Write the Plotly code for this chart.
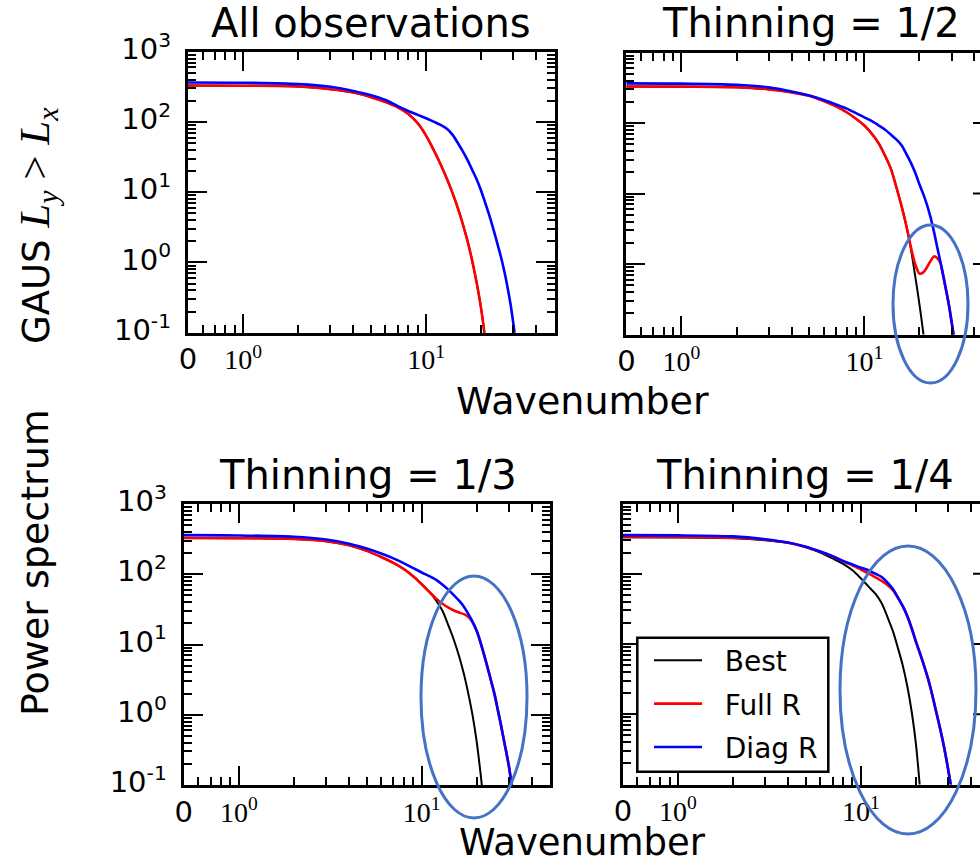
import math
import plotly.graph_objects as go

W, H = 980, 866
SANS = "DejaVu Sans"
SERIF = "Liberation Serif"

# ---------------- data ----------------
K = [0.5, 1, 2, 3, 4, 5, 6, 7, 8, 9, 10, 11, 12, 13, 14, 15, 16, 17, 18, 19, 20,
     21, 22, 23, 24, 25, 26, 27, 28, 29, 30, 31, 32]

titles = ["All observations", "Thinning = 1/2", "Thinning = 1/3", "Thinning = 1/4"]
series_names = ["Best", "Full R", "Diag R"]

best_all = [330, 328, 320, 292, 262, 225, 192, 162, 130, 96, 64, 40, 25, 15.5, 9.5,
            5.7, 3.3, 1.85, 0.97, 0.48, 0.22, 0.085, 0.03]
full_all = [330, 328, 320, 292, 262, 225, 192, 162, 130, 96, 64, 40, 25, 15.5, 9.5,
            5.7, 3.3, 1.85, 0.97, 0.48, 0.22, 0.085, 0.03]
diag_all = [365, 362, 346, 317, 276, 240, 205, 168, 143, 126, 113, 101, 91, 80, 65,
            49, 37, 27.5, 20, 14.8, 10.5, 7.2, 5.0, 3.4, 2.3, 1.55, 1.05, 0.68, 0.42,
            0.25, 0.135, 0.07]

best_half = [330, 328, 322, 300, 272, 243, 205, 172, 142, 115, 92, 70, 51, 34, 22,
             12, 6.5, 3.4, 1.6, 0.65, 0.27, 0.105, 0.04]
full_half = [330, 328, 322, 300, 272, 243, 205, 172, 142, 115, 92, 70, 51, 34, 22,
             12, 6.5, 3.4, 1.7, 0.98, 0.73, 0.76, 0.9, 1.1, 1.28, 1.22, 1.04, 0.68,
             0.42, 0.26, 0.15, 0.085]
diag_half = [365, 362, 348, 320, 280, 245, 212, 183, 160, 138, 120, 106, 92, 80, 68,
             58, 48, 36, 27, 19.5, 13.5, 9.8, 6.9, 4.6, 2.9, 1.75, 1.1, 0.68, 0.42,
             0.26, 0.15, 0.085]

best_third = [328, 326, 318, 296, 258, 215, 176, 145, 118, 93, 72, 56, 42, 30, 18.5,
              11.5, 6.8, 3.8, 1.95, 0.95, 0.4, 0.14, 0.045]
full_third = [328, 326, 318, 296, 258, 215, 176, 145, 118, 93, 72, 56, 45, 38, 33.5,
              30.5, 28.5, 27, 24.5, 20.5, 15.4, 10.5, 6.9, 4.5, 2.95, 1.95, 1.2, 0.75,
              0.46, 0.29, 0.18, 0.1, 0.05]
diag_third = [360, 357, 342, 312, 272, 232, 197, 168, 143, 122, 106, 94, 83, 71, 60,
              50, 42, 34.5, 27, 20.8, 15.4, 10.5, 6.9, 4.5, 2.95, 1.95, 1.2, 0.75,
              0.46, 0.29, 0.18, 0.1, 0.05]

best_quarter = [330, 328, 320, 300, 275, 238, 200, 165, 138, 112, 86, 66, 52, 38, 24,
                15, 8.5, 4.8, 2.4, 1.05, 0.38, 0.095, 0.02]
full_quarter = [335, 333, 326, 305, 276, 240, 205, 176, 150, 132, 115, 101, 89, 79, 69,
                58, 45, 34, 24.5, 16.5, 10.8, 7.5, 5.2, 3.6, 2.4, 1.55, 1.0, 0.66,
                0.43, 0.27, 0.165, 0.1, 0.055]
diag_quarter = [355, 352, 340, 310, 278, 242, 207, 178, 152, 135, 122, 112, 100, 90, 75,
                60, 45, 34, 24.5, 16.5, 10.8, 7.5, 5.2, 3.6, 2.4, 1.55, 1.0, 0.66,
                0.43, 0.27, 0.165, 0.1, 0.055]

x_tick_vals = [0.5, 1, 10]
x_minor_vals = [0.6, 0.7, 0.8, 0.9, 2, 3, 4, 5, 6, 7, 8, 9, 20, 30, 40, 50]
y_tick_vals = [0.1, 1, 10, 100, 1000]
y_tick_text = ["10<sup>-1</sup>", "10<sup>0</sup>", "10<sup>1</sup>",
               "10<sup>2</sup>", "10<sup>3</sup>"]
y_minor_vals = [m * 10.0 ** e for e in (-1, 0, 1, 2) for m in range(2, 10)]

# ---------------- layout geometry (pixels) ----------------
# (left, right, top, bottom, visible x max)
geom = [
    (187.9, 554.7, 51.7, 332.7, 50.5),
    (626.2, 980.0, 52.5, 334.5, 10 ** 1.6322),
    (183.6, 550.4, 504.0, 785.0, 50.5),
    (622.7, 980.0, 503.5, 784.5, 10 ** 1.6514),
]

panel_data = [
    (best_all, full_all, diag_all),
    (best_half, full_half, diag_half),
    (best_third, full_third, diag_third),
    (best_quarter, full_quarter, diag_quarter),
]
colors = ["#000000", "#ff0000", "#0000ff"]
widths = [2.0, 2.6, 2.6]
groups = ["best", "full", "diag"]

x_tick_text = ['<span style="font-family:DejaVu Sans;font-size:29px">0</span>',
               "10<sup>0</sup>", "10<sup>1</sup>"]

fig = go.Figure()
layout = dict(
    width=W, height=H, autosize=False, margin=dict(l=0, r=0, t=0, b=0, pad=0),
    paper_bgcolor="white", plot_bgcolor="white",
    showlegend=True,
)

for i, ((l, r, t, b, xmax), data) in enumerate(zip(geom, panel_data)):
    n = i + 1
    xa = "xaxis" if n == 1 else f"xaxis{n}"
    ya = "yaxis" if n == 1 else f"yaxis{n}"
    xr = "x" if n == 1 else f"x{n}"
    yr = "y" if n == 1 else f"y{n}"
    right_col = n in (2, 4)
    for j, vals in enumerate(data):
        fig.add_trace(go.Scatter(
            x=K[:len(vals)], y=vals, mode="lines",
            line=dict(color=colors[j], width=widths[j], shape="spline", smoothing=0.8),
            name="\u00a0\u00a0" + series_names[j], legendgroup=groups[j],
            showlegend=(n == 4), xaxis=xr, yaxis=yr, hoverinfo="skip"))
    layout[xa] = dict(
        type="log", domain=[l / W, r / W], anchor=yr, automargin=False,
        range=[math.log10(0.5) - 0.001, math.log10(xmax)],
        showline=True, linecolor="black", linewidth=3,
        mirror="ticks", ticks="inside", ticklen=19, tickwidth=2, tickcolor="black",
        tickmode="array", tickvals=x_tick_vals, ticktext=x_tick_text,
        tickfont=dict(family=SERIF, size=28, color="black"),
        ticklabelstandoff=0,
        minor=dict(ticks="inside", ticklen=8, tickwidth=1.6, tickcolor="black",
                   tickmode="array", tickvals=x_minor_vals, showgrid=False),
        showgrid=False, zeroline=False,
    )
    layout[ya] = dict(
        type="log", domain=[1 - b / H, 1 - t / H], anchor=xr, automargin=False,
        range=[-1, 3],
        showline=True, linecolor="black", linewidth=3,
        mirror=(False if right_col else "ticks"),
        ticks="inside", ticklen=19, tickwidth=2, tickcolor="black",
        tickmode="array", tickvals=y_tick_vals, ticktext=y_tick_text,
        showticklabels=not right_col,
        tickfont=dict(family=SANS, size=29, color="black"),
        ticklabelstandoff=8, ticklabelshift=-3,
        minor=dict(ticks="inside", ticklen=8, tickwidth=1.6, tickcolor="black",
                   tickmode="array", tickvals=y_minor_vals, showgrid=False),
        showgrid=False, zeroline=False,
    )

shapes = []
# right-edge tick stubs of the cut-off right column
for n in (2, 4):
    for frac in (0.25, 0.5, 0.75):
        shapes.append(dict(type="line", xref="paper", yref=f"y{n} domain",
                           x0=973 / W, x1=1.0, y0=frac, y1=frac,
                           line=dict(color="black", width=2)))
# highlight ellipses (pixel boxes)
for (x0, x1, y0, y1) in [(893, 968, 225, 383), (421, 527, 576, 818), (840, 976, 546, 834)]:
    shapes.append(dict(type="circle", xref="paper", yref="paper",
                       x0=x0 / W, x1=x1 / W, y0=1 - y1 / H, y1=1 - y0 / H,
                       line=dict(color="#4472C4", width=3)))
# legend frame
shapes.append(dict(type="rect", xref="paper", yref="paper",
                   x0=637.3 / W, x1=828.3 / W, y0=1 - 771.7 / H, y1=1 - 637.7 / H,
                   line=dict(color="black", width=2.5), fillcolor="white", layer="above"))
layout["shapes"] = shapes

ann = []
title_pos = [(371, 23.5), (811, 23.5), (368, 475.5), (805, 475.5)]
for txt, (cx, cy) in zip(titles, title_pos):
    ann.append(dict(text=txt, x=cx / W, y=1 - cy / H, xref="paper", yref="paper",
                    xanchor="center", yanchor="middle", showarrow=False,
                    font=dict(family=SANS, size=40, color="black")))
ann.append(dict(text="Wavenumber", x=582 / W, y=1 - 401 / H, xref="paper", yref="paper",
                xanchor="center", yanchor="middle", showarrow=False,
                font=dict(family=SANS, size=38, color="black")))
ann.append(dict(text="Wavenumber", x=582 / W, y=0, xref="paper", yref="paper",
                xanchor="center", yanchor="bottom", showarrow=False,
                font=dict(family=SANS, size=37, color="black")))
ann.append(dict(
    text='GAUS <span style="font-family:Liberation Serif;font-size:43px"><i>L<sub>y</sub></i> &gt; <i>L<sub>x</sub></i></span>',
    x=38 / W, y=1 - 226 / H, xref="paper", yref="paper", textangle=-90,
    xanchor="center", yanchor="middle", showarrow=False,
    font=dict(family=SANS, size=37, color="black")))
ann.append(dict(
    text="Power spectrum", x=35 / W, y=1 - 563 / H, xref="paper", yref="paper",
    textangle=-90, xanchor="center", yanchor="middle", showarrow=False,
    font=dict(family=SANS, size=38, color="black")))
layout["annotations"] = ann

layout["legend"] = dict(
    x=649 / W, y=1 - 635.5 / H, xanchor="left", yanchor="top",
    bgcolor="rgba(0,0,0,0)", borderwidth=0,
    font=dict(family=SANS, size=28, color="black"),
    traceorder="grouped", tracegroupgap=4, itemwidth=48,
)

fig.update_layout(**layout)
fig.write_html("out.html", config={"displayModeBar": False},
               post_script="document.body.style.margin='0px';")
